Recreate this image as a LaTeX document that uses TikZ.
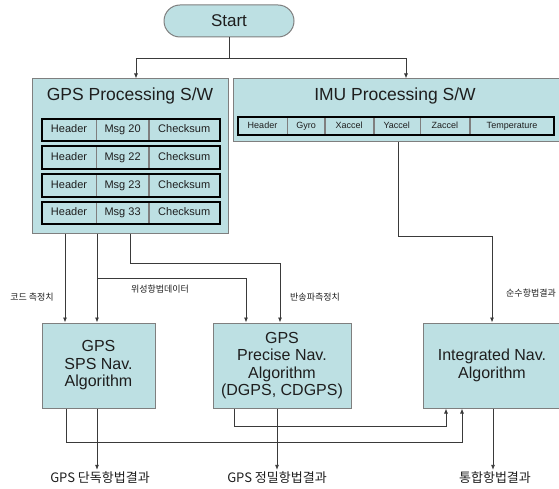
\documentclass[tikz,border=0pt]{standalone}
\usepackage{fontspec}
\setmainfont{Liberation Sans}
\newfontfamily\krfont{Noto Sans CJK KR}
\usepackage{xcolor}
\usepackage{tikz}
\usetikzlibrary{arrows.meta,positioning,fit}
\definecolor{NavCyan}{HTML}{BDE0E3}
\definecolor{NavEdge}{HTML}{7F7F7F}
\definecolor{NavLine}{HTML}{3A3A3A}
\definecolor{NavText}{HTML}{1E1E1E}

\begin{document}
\begin{tikzpicture}[
  x=1pt, y=-1pt,
  swbox/.style={draw=NavEdge, fill=NavCyan, line width=1pt, inner sep=0pt},
  title/.style={text=NavText, font=\fontsize{17.5}{20}\selectfont},
  startbox/.style={draw=NavEdge, fill=NavCyan, line width=1pt, rounded corners=16pt, minimum width=130pt, minimum height=32pt, text=NavText, font=\fontsize{17}{20}\selectfont},
  gcell/.style={draw=NavEdge, fill=NavCyan, line width=0.6pt, minimum height=22pt, inner sep=0pt, text height=8pt, text depth=2.2pt, text=NavText, font=\fontsize{11}{13}\selectfont},
  icell/.style={draw=NavEdge, fill=NavCyan, line width=0.6pt, minimum height=18pt, inner sep=0pt, text height=6.5pt, text depth=1.8pt, text=NavText, font=\fontsize{9}{11}\selectfont},
  rowframe/.style={draw=black, line width=2pt, inner sep=0pt},
  algo/.style={draw=NavEdge, fill=NavCyan, line width=1pt, minimum height=85pt, align=center, inner sep=0pt, text=NavText, font=\fontsize{16}{17.5}\selectfont},
  tag/.style={text=NavText, inner sep=1pt, font=\krfont\fontsize{9}{11}\selectfont},
  result/.style={text=NavText, inner sep=2pt, font=\krfont\fontsize{13}{15}\selectfont},
  flow/.style={draw=NavLine, line width=0.8pt, -{Latex[length=5pt,width=4pt]}},
  wire/.style={draw=NavLine, line width=0.8pt}
]
  \useasboundingbox (0,0) rectangle (559,489);

  \node[startbox] (start) at (229,21) {Start};

  % processing blocks
  \node[swbox, minimum width=196pt, minimum height=154pt] (gpsbox) at (130,156) {};
  \node[title] (gpstitle) at (130,96) {GPS Processing S/W};
  \node[swbox, minimum width=328pt, minimum height=63pt] (imubox) at (397,110.5) {};
  \node[title] (imutitle) at (395,96) {IMU Processing S/W};

  % GPS messages
  \node[gcell, minimum width=54pt] (h20) at (69,130) {Header};
  \node[gcell, minimum width=52pt, right=0pt of h20] (m20) {Msg 20};
  \node[gcell, minimum width=70pt, right=0pt of m20] (c20) {Checksum};
  \node[rowframe, fit=(h20)(c20)] (row20) {};

  \node[gcell, minimum width=54pt, below=5pt of h20] (h22) {Header};
  \node[gcell, minimum width=52pt, right=0pt of h22] (m22) {Msg 22};
  \node[gcell, minimum width=70pt, right=0pt of m22] (c22) {Checksum};
  \node[rowframe, fit=(h22)(c22)] (row22) {};

  \node[gcell, minimum width=54pt, below=5pt of h22] (h23) {Header};
  \node[gcell, minimum width=52pt, right=0pt of h23] (m23) {Msg 23};
  \node[gcell, minimum width=70pt, right=0pt of m23] (c23) {Checksum};
  \node[rowframe, fit=(h23)(c23)] (row23) {};

  \node[gcell, minimum width=54pt, below=5pt of h23] (h33) {Header};
  \node[gcell, minimum width=52pt, right=0pt of h33] (m33) {Msg 33};
  \node[gcell, minimum width=70pt, right=0pt of m33] (c33) {Checksum};
  \node[rowframe, fit=(h33)(c33)] (row33) {};

  % IMU message
  \node[icell, minimum width=49pt] (ihead) at (262.5,126) {Header};
  \node[icell, minimum width=37pt, right=0pt of ihead] (igyro) {Gyro};
  \node[icell, minimum width=48pt, right=0pt of igyro] (ixacc) {Xaccel};
  \node[icell, minimum width=46pt, right=0pt of ixacc] (iyacc) {Yaccel};
  \node[icell, minimum width=49pt, right=0pt of iyacc] (izacc) {Zaccel};
  \node[icell, minimum width=84pt, right=0pt of izacc] (itemp) {Temperature};
  \node[rowframe, fit=(ihead)(itemp)] (imurow) {};

  % algorithms
  \node[algo, minimum width=113pt] (sps) at (98.5,365.5) {GPS\\SPS Nav.\\Algorithm};
  \node[algo, minimum width=138pt] (precise) at (282,365.5) {GPS\\Precise Nav.\\Algorithm\\(DGPS, CDGPS)};
  \node[algo, minimum width=138pt] (intnav) at (492,365.5) {Integrated Nav.\\Algorithm};

  % results
  \node[result] (spsout) at (100,478) {GPS 단독항법결과};
  \node[result] (preout) at (277,478) {GPS 정밀항법결과};
  \node[result] (intout) at (495,478) {통합항법결과};

  % data tags
  \node[tag] (codetag) at (32,297) {코드 측정치};
  \node[tag] (navtag) at (160,289) {위성항법데이터};
  \node[tag, anchor=west] (carriertag) at (289,297) {반송파측정치};
  \node[tag, anchor=west] (puretag) at (505,293) {순수항법결과};

  \coordinate (split) at (start.south |- 0,58);
  \draw[wire] (start.south) -- (split);
  \draw[flow] (split) -| (gpsbox.north -| 136,0);
  \draw[flow] (split) -| (imubox.north -| 406,0);

  \draw[flow] (gpsbox.south -| 65,0) -- (sps.north -| 65,0);
  \draw[flow] (gpsbox.south -| 97,0) -- (sps.north -| 97,0);
  \draw[flow] (gpsbox.south -| 97,0) -- ++(0,45) -| (precise.north -| 246,0);
  \draw[flow] (gpsbox.south -| 130,0) -- ++(0,30) -| (precise.north -| 280,0);
  \draw[flow] (imubox.south -| 398,0) -- ++(0,94) -| (intnav.north);

  \draw[flow] (sps.south -| 66,0) -- ++(0,34) -| (intnav.south -| 462,0);
  \draw[flow] (precise.south -| 234,0) -- ++(0,18) -| (intnav.south -| 446,0);

  \draw[flow] (sps.south -| 97,0) -- (spsout.north -| 97,0);
  \draw[flow] (precise.south -| 277,0) -- (preout.north -| 277,0);
  \draw[flow] (intnav.south -| 493,0) -- (intout.north -| 493,0);
\end{tikzpicture}
\end{document}
